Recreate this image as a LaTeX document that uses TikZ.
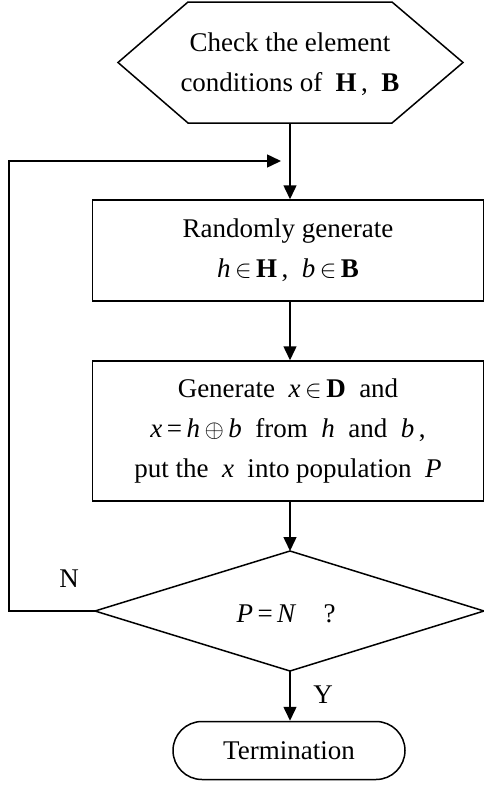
\documentclass[tikz,border=0pt]{standalone}
\usepackage{fontspec}
\setmainfont{Liberation Serif}
\usetikzlibrary{arrows.meta,shapes.misc,calc}
\begin{document}
\begin{tikzpicture}[x=1pt,y=-1pt,
  line/.style={line width=1.5pt},
  arr/.style={line, -{Triangle[length=14pt,width=13pt]}},
  txt/.style={font=\fontsize{27}{40}\selectfont, align=center, inner sep=0pt},
  boxnode/.style={draw, line, rectangle, minimum width=391pt, inner sep=0pt, txt},
]
\useasboundingbox (0,0) rectangle (484,787);

% hexagon (start)
\draw[line] (188,2) -- (392,2) -- (463,62.5) -- (392,123) -- (188,123) -- (118,62.5) -- cycle;
\node[txt] (hex) at (290,64) {Check the element\\conditions of\enspace \textbf{H}\,,\enspace \textbf{B}};
\coordinate (hexb) at (290,123);

% process boxes
\node[boxnode, minimum height=101pt] (b1) at (288,250.5)
  {Randomly generate\\\textit{h}\,$\in$\,\textbf{H}\,,\enspace \textit{b}\,$\in$\,\textbf{B}};
\node[boxnode, minimum height=140pt] (b2) at (288,431)
  {Generate\enspace \textit{x}\,$\in$\,\textbf{D}\enspace and\\
   \textit{x}\,=\,\textit{h}\,$\oplus$\,\textit{b}\enspace from\enspace \textit{h}\enspace and\enspace \textit{b}\,,\\
   put the\enspace \textit{x}\enspace into population\enspace \textit{P}};

% decision diamond
\draw[line] (290,551) -- (484,611) -- (290,671) -- (95,611) -- cycle;
\coordinate (diat) at (290,551);
\coordinate (diab) at (290,671);
\coordinate (dial) at (95,611);
\node[txt] (dia) at (286,614) {\textit{P}\,=\,\textit{N}\quad ?};

% terminator
\node[draw, line, rounded rectangle, minimum width=232pt, minimum height=58pt, txt] (term) at (289,750.5) {Termination};

% labels
\node[txt] (nlab) at (69,579) {N};
\node[txt] (ylab) at (323,695) {Y};

% connectors
\coordinate (join) at (290,161);
\coordinate (lc) at (9,611);
\draw[arr] (hexb) -- (hexb |- b1.north);
\draw[arr] (hexb |- b1.south) -- (hexb |- b2.north);
\draw[arr] (hexb |- b2.south) -- (diat);
\draw[arr] (diab) -- (diab |- term.north);
\draw[arr, shorten >=9pt] (dial) -- (lc) -- (lc |- join) -- (join);
\end{tikzpicture}
\end{document}
